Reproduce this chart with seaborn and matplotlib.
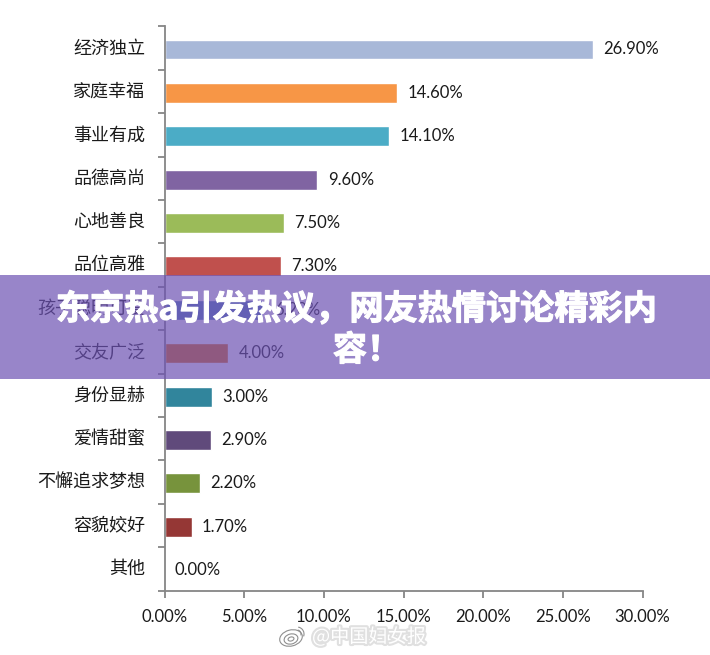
import matplotlib
matplotlib.use("Agg")
import matplotlib.pyplot as plt
import matplotlib.patheffects as pe
from matplotlib.patches import Arc, Ellipse, Rectangle
from matplotlib.transforms import ScaledTranslation
import numpy as np
import pandas as pd
import seaborn as sns

categories = ["经济独立", "家庭幸福", "事业有成", "品德高尚", "心地善良", "品位高雅", "孩子聪明可爱",
              "交友广泛", "身份显赫", "爱情甜蜜", "不懈追求梦想", "容貌姣好", "其他"]
values = [26.9, 14.6, 14.1, 9.6, 7.5, 7.3, 6.2, 4.0, 3.0, 2.9, 2.2, 1.7, 0.0]
colors = ["#a8b8d8", "#f79646", "#4bacc6", "#8064a2", "#9bbb59", "#c0504d", "#4f81bd",
          "#e46c0a", "#31859c", "#604a7b", "#77933c", "#953735", "#777777"]
x_ticks = [0, 5, 10, 15, 20, 25, 30]
title_lines = ["东京热a引发热议，网友热情讨论精彩内", "容！"]
watermark = "@中国妇女报"

W, H = 710, 655
CJK = ["Noto Sans CJK SC", "DejaVu Sans"]
NUM = ["Lato", "DejaVu Sans"]

sns.set_theme(style="white")
plt.rcParams["font.family"] = CJK

df = pd.DataFrame({"category": categories, "value": values})

fig = plt.figure(figsize=(W / 100, H / 100), dpi=100)
ax = fig.add_axes([164.5 / W, 1 - 590.5 / H, (642.5 - 164.5) / W, (590.5 - 26.5) / H])

sns.barplot(data=df, x="value", y="category", hue="category", palette=colors,
            legend=False, dodge=False, width=0.46, saturation=1, ax=ax)

# bars sit a bit under the middle of their slots in the original
shift = 0.03
ax.set_xlim(0, 30)
ax.set_ylim(12.5 - shift, -0.5 - shift)
ax.set_xlabel("")
ax.set_ylabel("")

ax.set_xticks(x_ticks)
ax.set_xticklabels([f"{t:.2f}%" for t in x_ticks], family=NUM, fontsize=12, color="#1a1a1a")
ax.set_yticks(np.arange(len(categories)))
ax.set_yticklabels(categories, fontsize=13, color="#1a1a1a")
ax.set_yticks(np.arange(len(categories) + 1) - 0.5 - shift, minor=True)
ax.tick_params(axis="y", which="major", length=0, pad=14)
ax.tick_params(axis="y", which="minor", length=5, width=1.3, color="#868686", left=True)
ax.tick_params(axis="x", which="major", length=5, width=1.3, color="#868686", bottom=True, pad=8)

# category labels ride about 3px higher than matplotlib centres them
up = ScaledTranslation(0, 3 / 100, fig.dpi_scale_trans)
for label in ax.get_yticklabels():
    label.set_transform(label.get_transform() + up)

sns.despine(ax=ax)
for side in ["left", "bottom"]:
    ax.spines[side].set_color("#868686")
    ax.spines[side].set_linewidth(1.3)

down = ScaledTranslation(0, -3 / 100, fig.dpi_scale_trans)
for container in ax.containers:
    for label in ax.bar_label(container, fmt="%.2f%%", padding=7.5, family=NUM, fontsize=12, color="#1a1a1a"):
        label.set_transform(label.get_transform() + down)

# banner and watermark in pixel coordinates
top = fig.add_axes([0, 0, 1, 1], facecolor="none")
top.set_xlim(0, W)
top.set_ylim(H, 0)
top.axis("off")
top.add_patch(Rectangle((0, 275), W, 104, facecolor="#6c51b3", alpha=0.7, edgecolor="none"))
heavy = [pe.withStroke(linewidth=0.8, foreground="white")]
top.text(356, 309, title_lines[0], ha="center", va="center", color="white",
         fontsize=24.6, fontweight="bold", path_effects=heavy)
top.text(367, 350, title_lines[1], ha="center", va="center", color="white",
         fontsize=24.6, fontweight="bold", path_effects=heavy)

for cx, cy, w, h in [(291, 638, 23, 16), (291, 639, 14, 10), (291, 639, 6, 4)]:
    top.add_patch(Ellipse((cx, cy), w, h, angle=-15, facecolor="none", edgecolor="#8f8f8f", linewidth=0.8))
for size in [14, 8]:
    top.add_patch(Arc((297, 634), size, size, theta1=-80, theta2=20, edgecolor="#8f8f8f", linewidth=0.8))
top.text(312, 637, watermark, ha="left", va="center", color="white", fontsize=13.8,
         path_effects=[pe.withStroke(linewidth=3, foreground="#e0e0e0")])

fig.savefig("out.png", dpi=100)
